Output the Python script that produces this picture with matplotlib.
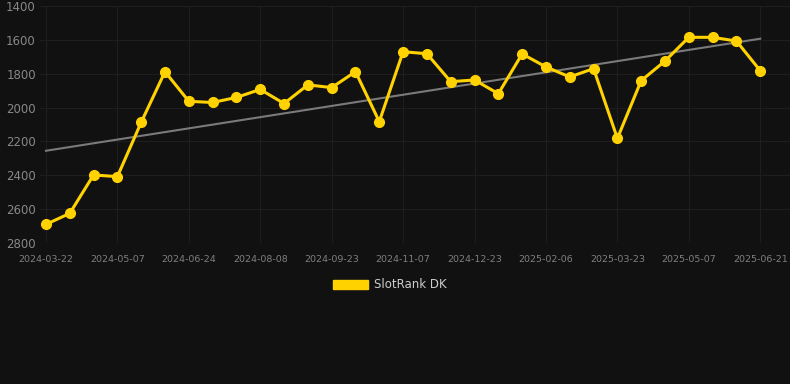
import numpy as np
import matplotlib
matplotlib.use('Agg')
import matplotlib.pyplot as plt
from matplotlib.patches import Patch

tick_labels = ['2024-03-22', '2024-05-07', '2024-06-24', '2024-08-08', '2024-09-23',
               '2024-11-07', '2024-12-23', '2025-02-06', '2025-03-23', '2025-05-07',
               '2025-06-21']
rank = [2690, 2625, 2398, 2408, 2087, 1788, 1963, 1970, 1940, 1893,
        1976, 1866, 1882, 1788, 2083, 1670, 1682, 1847, 1837, 1918,
        1683, 1760, 1819, 1770, 2182, 1841, 1725, 1585, 1585, 1607,
        1782]

bg = '#111111'
x = np.arange(len(rank))

fig = plt.figure(figsize=(7.9, 3.84), dpi=100, facecolor=bg)
ax = fig.add_axes([40 / 790, 1 - 243 / 384, 750 / 790, 237 / 384], facecolor=bg)

# trend line (least squares fit)
k, b = np.polyfit(x, rank, 1)
ax.plot(x, k * x + b, color='#7a7a7a', lw=1.5, zorder=2)

ax.plot(x, rank, color='#FFD200', lw=2.2, marker='o', markersize=7, zorder=3)

ax.set_ylim(2800, 1400)
ax.set_xlim(-0.25, 31.25)
ax.set_yticks(range(1400, 2801, 200))
ax.set_xticks(range(0, len(rank), 3))
ax.set_xticklabels(tick_labels)

ax.grid(True, color='#1e1e1e', lw=0.8)
for s in ax.spines.values():
    s.set_visible(False)
ax.axhline(2800, color='#2a2a2a', lw=0.8, zorder=1)
ax.tick_params(axis='both', length=0, colors='#7f7f7f')
ax.tick_params(axis='y', labelsize=8.5, pad=3, colors='#888888')
ax.tick_params(axis='x', labelsize=6.8, pad=9)

fig.legend(handles=[Patch(facecolor='#FFD200', edgecolor='#FFD200')], labels=['SlotRank DK'],
           loc='center', bbox_to_anchor=(390 / 790, 1 - 285 / 384), frameon=False,
           labelcolor='#cccccc', fontsize=8.5, handlelength=3.0, handleheight=0.9,
           handletextpad=0.5)

plt.savefig('out.png', dpi=100, facecolor=bg)
